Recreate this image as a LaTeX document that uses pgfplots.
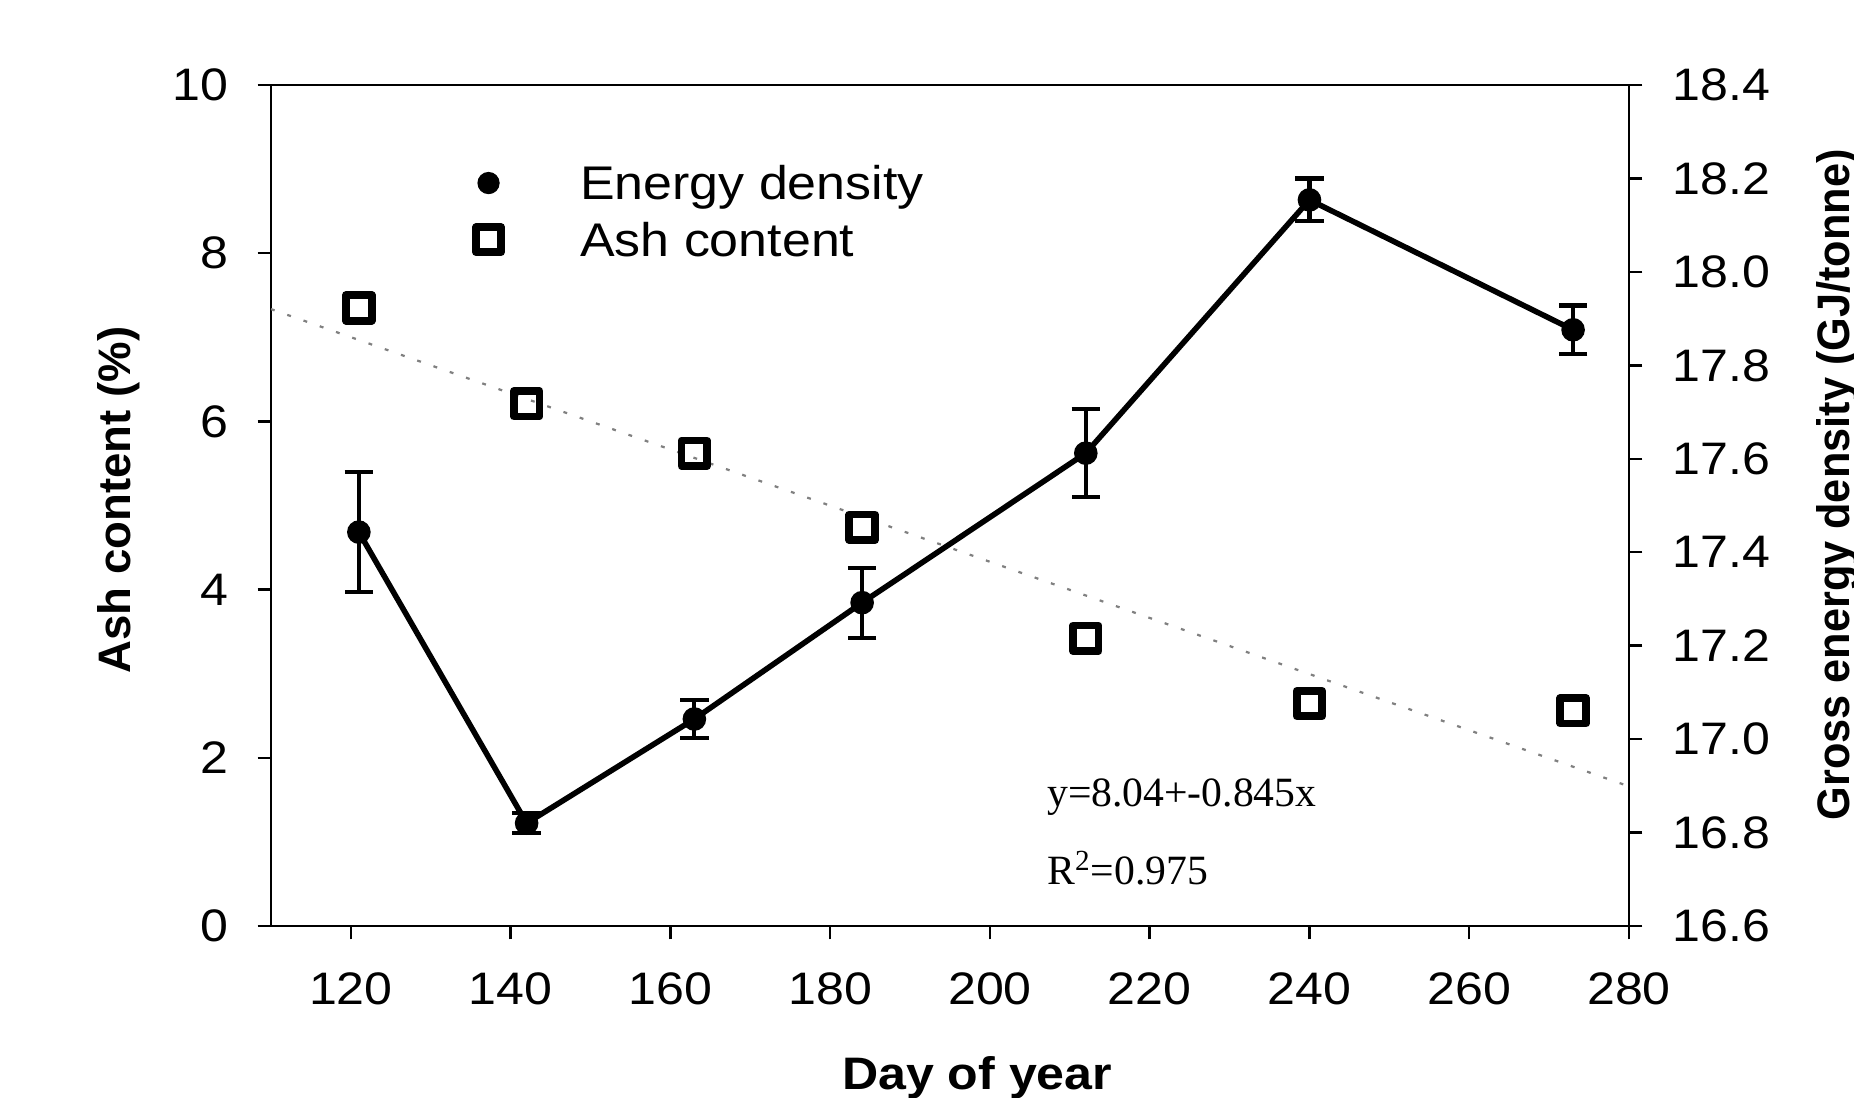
\documentclass[border=0pt]{standalone}
\usepackage{pgfplots}
\pgfplotsset{compat=1.18}
\usepackage{fontspec}
\setmainfont{Liberation Sans}
\newfontfamily\widesans[FakeStretch=1.1]{Liberation Sans}
\newfontfamily\narrowsans[FakeStretch=0.95]{Liberation Sans}
\newfontfamily\timesfont{Liberation Serif}

\pgfplotsset{mylegimg/.style={legend image code/.code={\path (-6pt,0pt) (6pt,0pt); \draw[##1] plot coordinates {(0pt,0pt)};}}}

\pgfplotstableread{
x y e
121 17.443 0.128
142 16.820 0.021
163 17.043 0.041
184 17.292 0.075
212 17.612 0.094
240 18.154 0.046
273 17.876 0.052
}\energy

\pgfplotstableread{
x y
121 7.35
142 6.21
163 5.62
184 4.74
212 3.42
240 2.645
273 2.56
}\ash

\begin{document}
\begin{tikzpicture}
\begin{axis}[
  at={(0,0)}, anchor=south west,
  scale only axis, width=488.88pt, height=302.76pt,
  xmin=110, xmax=280, ymin=0, ymax=10,
  xtick={120,140,...,280}, ytick={0,2,...,10},
  tick align=outside, xtick pos=bottom, ytick pos=left,
  major tick length=4.8pt,
  axis line style={line width=0.9pt},
  every tick/.append style={black, line width=0.9pt},
  tick label style={font=\widesans\fontsize{16.4}{19}\selectfont, inner sep=0pt},
  /pgf/number format/assume math mode=true,
  xticklabel shift=11.8pt, yticklabel shift=10.3pt,
  xlabel={Day of year}, ylabel={Ash content (\%)},
  xlabel style={font=\widesans\bfseries\fontsize{16.4}{19}\selectfont,
    at={(axis description cs:0.52,-0.181)}, anchor=center},
  ylabel style={font=\bfseries\fontsize{16.4}{19}\selectfont,
    at={(axis description cs:-0.1038,0.5065)}, anchor=base},
  legend style={at={(axis description cs:0.14752,0.9171)}, anchor=north west,
    draw=none, fill=none, inner sep=0pt, outer sep=0pt,
    font=\widesans\fontsize{17}{19}\selectfont, row sep=0pt,
    nodes={inner sep=0pt, text height=16.2pt, text depth=4.2pt},
    /tikz/every odd column/.append style={column sep=26.76pt}},
  legend cell align=left,
]
\addlegendimage{only marks, mark=*, mark size=3.8pt, black, mylegimg}
\addlegendentry{Energy density}
\addlegendimage{only marks, mark=square, mark size=4.5pt, mark options={line width=2.8pt, line join=round}, black, mylegimg}
\addlegendentry{Ash content}

\addplot[forget plot, only marks, mark=square, mark size=4.6pt, black,
  mark options={line width=2.8pt, line join=round}] table[x=x, y=y] {\ash};
\addplot[forget plot, gray, line width=0.8pt, dash pattern=on 1.4pt off 4.8pt]
  coordinates {(110,7.335) (280,1.66)};

\node[anchor=base west, font=\timesfont\fontsize{15}{18}\selectfont, inner sep=0pt]
  at (axis cs:207.1,1.415) {y=8.04+-0.845x};
\node[anchor=base west, font=\timesfont\fontsize{15}{18}\selectfont, inner sep=0pt]
  at (axis cs:207.1,0.4875) {R\textsuperscript{2}=0.975};
\end{axis}

\begin{axis}[
  at={(0,0)}, anchor=south west,
  scale only axis, width=488.88pt, height=302.76pt,
  xmin=110, xmax=280, ymin=16.6, ymax=18.4,
  axis x line=none, axis y line*=right,
  ytick={16.6,16.8,17.0,17.2,17.4,17.6,17.8,18.0,18.2,18.4},
  yticklabel style={/pgf/number format/.cd, fixed, fixed zerofill, precision=1},
  tick align=outside, major tick length=4.8pt,
  axis line style={line width=0.9pt},
  every tick/.append style={black, line width=0.9pt},
  tick label style={font=\widesans\fontsize{16.4}{19}\selectfont, inner sep=0pt},
  /pgf/number format/assume math mode=true,
  yticklabel shift=10.7pt,
  ylabel={Gross energy density (GJ/tonne)},
  ylabel style={font=\narrowsans\bfseries\fontsize{16.4}{19}\selectfont,
    at={(axis description cs:1.162,0.5244)}, anchor=base},
]
\addplot[black, line width=2pt, mark=*, mark size=4pt,
  mark options={line width=0.5pt},
  error bars/.cd, y dir=both, y explicit,
  error bar style={line width=1.5pt},
  error mark options={rotate=90, mark size=5.1pt, line width=1.5pt}]
  table[x=x, y=y, y error=e] {\energy};
\end{axis}

\pgfresetboundingbox
\path[use as bounding box] (-97.56pt,-61.92pt) rectangle (569.88pt,333.36pt);
\end{tikzpicture}
\end{document}
